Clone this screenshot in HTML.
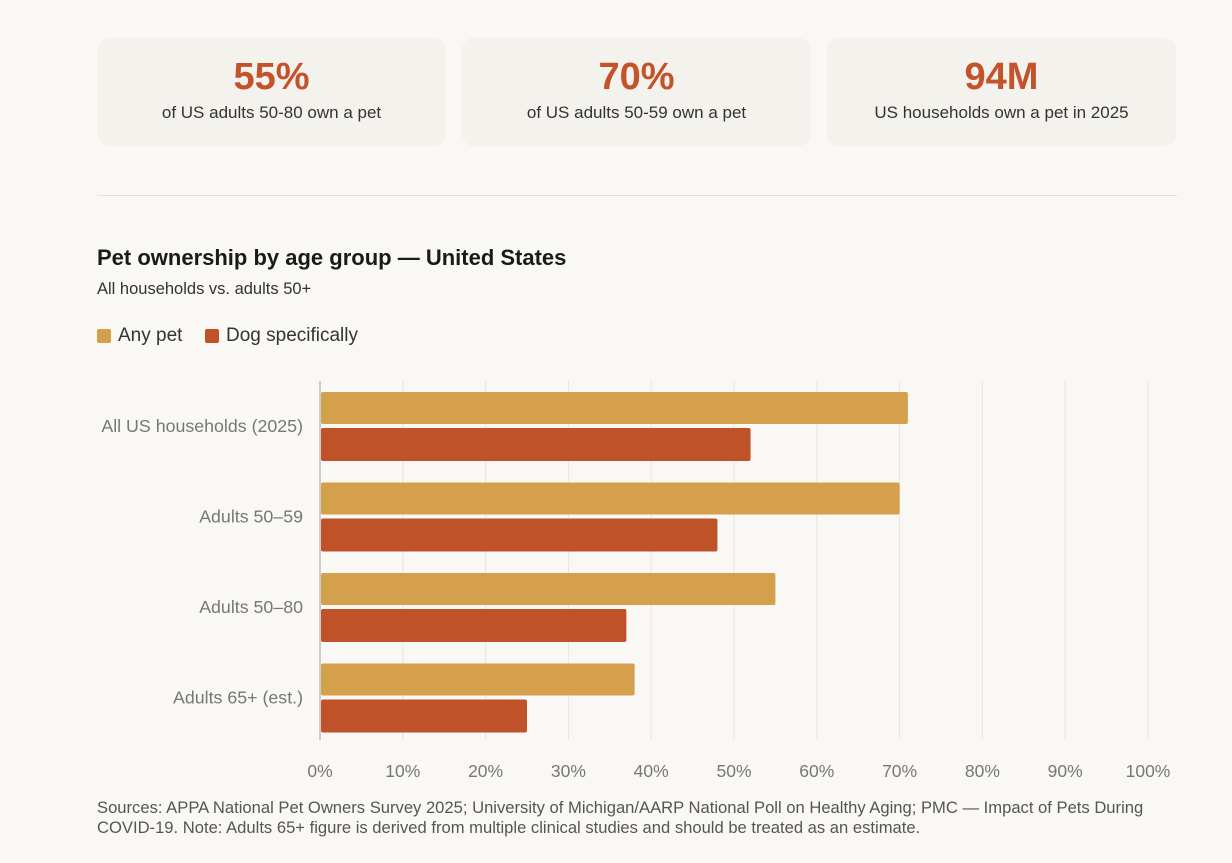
<!DOCTYPE html>
<html><head><meta charset="utf-8"><style>
body{margin:0;background:#faf8f4;width:1232px;height:863px;overflow:hidden;font-family:"Liberation Sans",sans-serif;color:#222;position:relative}
.card{position:absolute;top:38px;width:349px;height:108px;background:#f4f2ec;border-radius:12px;text-align:center}
.card .v{margin-top:17px;font-size:38px;font-weight:bold;color:#c4532c;line-height:44px}
.card .l{font-size:17px;color:#333;margin-top:4px}
.hr{position:absolute;left:97px;top:195px;width:1080px;height:1px;background:#e2dfd8}
.t{position:absolute;left:97px;top:245px;font-size:22px;font-weight:bold;color:#1a1a1a}
.st{position:absolute;left:97px;top:280px;font-size:16.5px;color:#333}
.lg{position:absolute;top:325px;font-size:19px;color:#333;display:flex;align-items:center}
.sw{width:14px;height:14px;border-radius:2px;margin-right:7px}
.src{position:absolute;left:97px;top:798px;width:1082px;font-size:16.6px;color:#555;line-height:20px}
svg{position:absolute;left:0;top:0}
</style></head><body>
<div class="card" style="left:97px"><div class="v">55%</div><div class="l">of US adults 50-80 own a pet</div></div>
<div class="card" style="left:462px"><div class="v">70%</div><div class="l">of US adults 50-59 own a pet</div></div>
<div class="card" style="left:827px"><div class="v">94M</div><div class="l">US households own a pet in 2025</div></div>
<div class="hr"></div>
<div class="t">Pet ownership by age group — United States</div>
<div class="st">All households vs. adults 50+</div>
<div class="lg" style="left:97px"><div class="sw" style="background:#d4a04c"></div>Any pet</div>
<div class="lg" style="left:205px"><div class="sw" style="background:#c0522a"></div>Dog specifically</div>
<svg width="1232" height="863" id="chart"></svg>
<div class="src">Sources: APPA National Pet Owners Survey 2025; University of Michigan/AARP National Poll on Healthy Aging; PMC — Impact of Pets During COVID-19. Note: Adults 65+ figure is derived from multiple clinical studies and should be treated as an estimate.</div>
<script>
const categories=["All US households (2025)","Adults 50–59","Adults 50–80","Adults 65+ (est.)"];
const anyPet=[71,70,55,38];
const dogs=[52,48,37,25];
const ticks=[0,10,20,30,40,50,60,70,80,90,100];
const svg=document.getElementById('chart');
const NS='http://www.w3.org/2000/svg';
const x=v=>320+v*8.28;
const y0=381,y1=740,band=90.5;
function mk(t,a){const e=document.createElementNS(NS,t);for(const k in a)e.setAttribute(k,a[k]);svg.appendChild(e);return e;}
ticks.forEach(t=>{
 const g=mk('line',{x1:x(t),x2:x(t),y1:y0,y2:y1,stroke:t===0?'#ccc':'#e8e5df','stroke-width':t===0?2:1});
 
 
 const l=mk('text',{x:x(t),y:777,'text-anchor':'middle','font-size':17.5,fill:'#777','font-family':'Liberation Sans'});
 l.textContent=t+'%';
 
 
});
categories.forEach((c,i)=>{
 const top=y0+11+i*band;
 const a=mk('rect',{x:x(0)+1,y:top,width:x(anyPet[i])-x(0)-1,height:32,fill:'#d4a04c',rx:2});
 
 
 const d=mk('rect',{x:x(0)+1,y:top+36,width:x(dogs[i])-x(0)-1,height:33,fill:'#c0522a',rx:2});
 
 
 const l=mk('text',{x:303,y:top+40,'text-anchor':'end','font-size':17.8,fill:'#777','font-family':'Liberation Sans'});
 l.textContent=c;
 
 
});
</script>
</body></html>
